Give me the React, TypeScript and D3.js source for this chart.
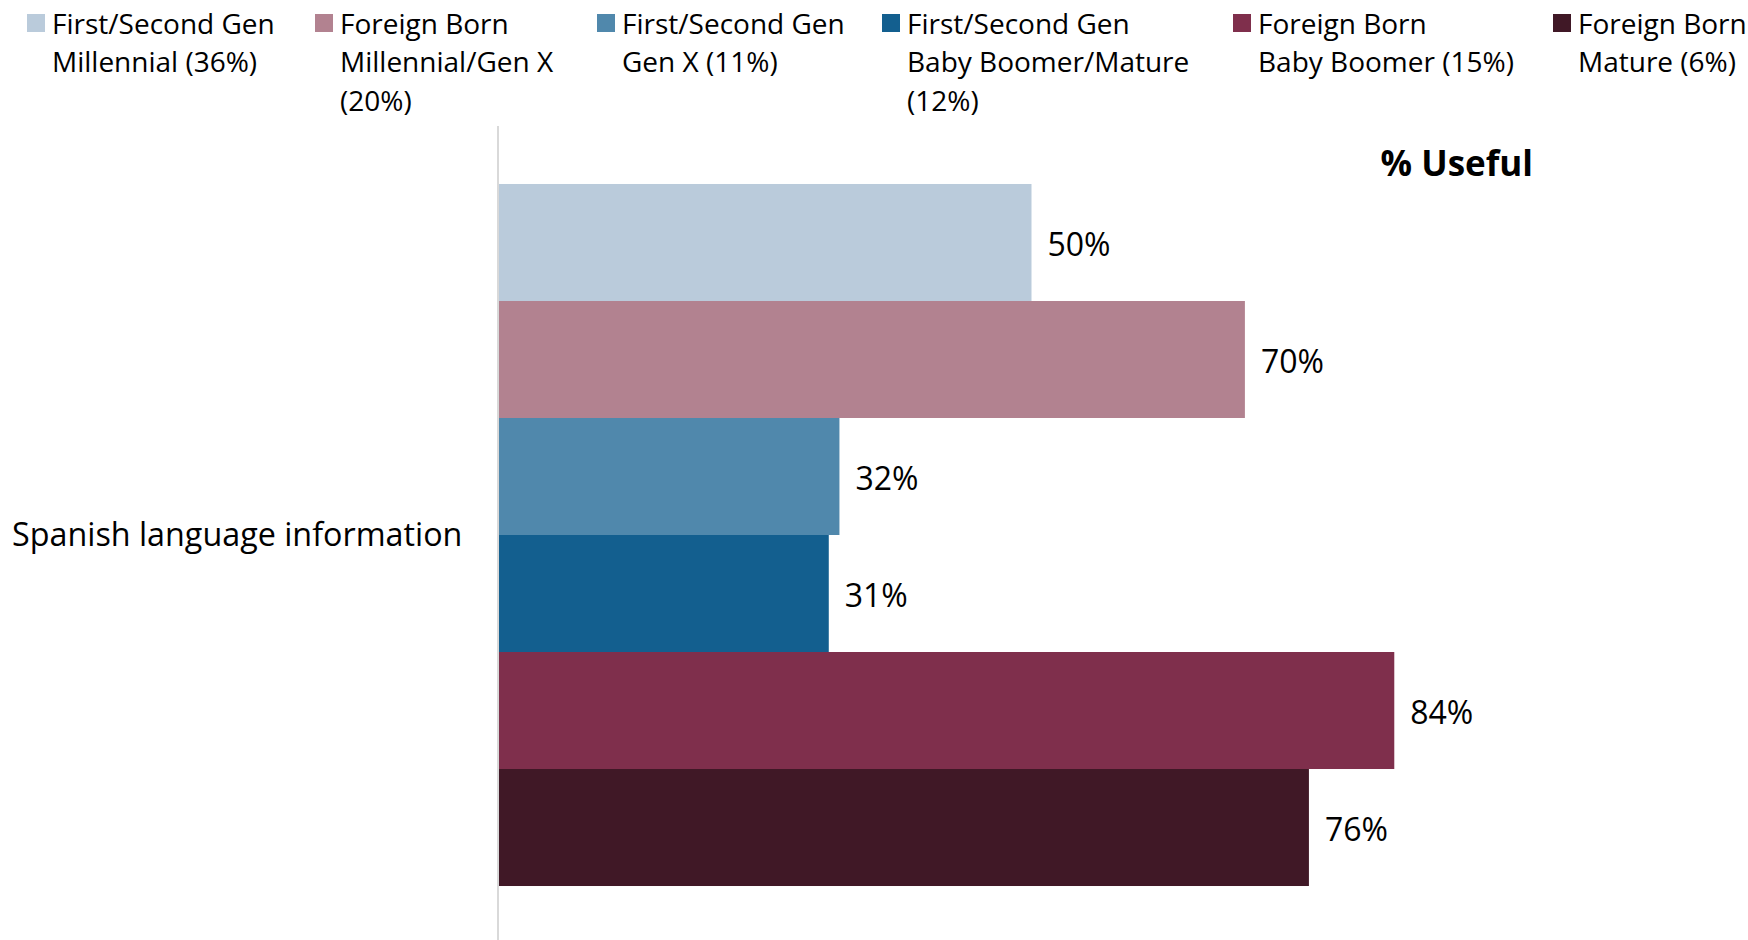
import React, { useEffect } from "react";
import * as d3 from "d3";

const categories = ["Spanish language information"];
const seriesNames = [
  "First/Second Gen Millennial (36%)",
  "Foreign Born Millennial/Gen X (20%)",
  "First/Second Gen Gen X (11%)",
  "First/Second Gen Baby Boomer/Mature (12%)",
  "Foreign Born Baby Boomer (15%)",
  "Foreign Born Mature (6%)",
];
const legendLines = [
  ["First/Second Gen", "Millennial (36%)"],
  ["Foreign Born", "Millennial/Gen X", "(20%)"],
  ["First/Second Gen", "Gen X (11%)"],
  ["First/Second Gen", "Baby Boomer/Mature", "(12%)"],
  ["Foreign Born", "Baby Boomer (15%)"],
  ["Foreign Born", "Mature (6%)"],
];
const values = [50, 70, 32, 31, 84, 76];
const colors = ["#BACBDB", "#B28290", "#5088AC", "#135F8F", "#7F2F4C", "#401826"];
const title = "% Useful";

const W = 1748;
const H = 940;
const FONT = "'Open Sans', sans-serif";

export default function App() {
  useEffect(() => {
    document.body.style.margin = "0";
  }, []);

  const x = d3.scaleLinear().domain([0, 100]).range([498, 1565]);
  const yCat = d3.scaleBand().domain(categories).range([126, 944]).paddingOuter(0.0826).paddingInner(0);
  const catY0 = yCat(categories[0]) as number;
  const ySer = d3
    .scaleBand()
    .domain(seriesNames)
    .range([catY0, catY0 + yCat.bandwidth()]);

  const legendSquareX = [27, 315, 597, 882, 1233, 1553];

  return (
    <svg width={W} height={H} style={{ display: "block", background: "#fff" }} fontFamily={FONT}>
      {/* legend */}
      {seriesNames.map((s, i) => (
        <g key={s} transform={`translate(${legendSquareX[i]},0)`}>
          <rect x={0} y={14} width={18} height={18} fill={colors[i]} />
          {legendLines[i].map((ln, j) => (
            <text key={j} x={25} y={33.5 + j * 38.5} fontSize={28} fill="#000">
              {ln}
            </text>
          ))}
        </g>
      ))}

      {/* axis line */}
      <line x1={x(0)} x2={x(0)} y1={126} y2={H} stroke="#D9D9D9" strokeWidth={2} />

      {/* bars */}
      {seriesNames.map((s, i) => {
        const y0 = ySer(s) as number;
        const bh = ySer.bandwidth();
        return (
          <g key={s}>
            <rect x={x(0) + 1} y={y0} width={x(values[i]) - x(0) - 1} height={bh} fill={colors[i]} />
            <text
              x={x(values[i]) + 16}
              y={y0 + bh / 2 + 2}
              dy="0.35em"
              fontSize={32}
              fill="#000"
            >
              {values[i]}%
            </text>
          </g>
        );
      })}

      {/* category label */}
      <text x={12} y={catY0 + yCat.bandwidth() / 2} dy="0.35em" fontSize={32.3} fill="#000">
        {categories[0]}
      </text>

      {/* title */}
      <text x={1533} y={176} textAnchor="end" fontSize={35} fontWeight="bold" fill="#000">
        {title}
      </text>
    </svg>
  );
}
